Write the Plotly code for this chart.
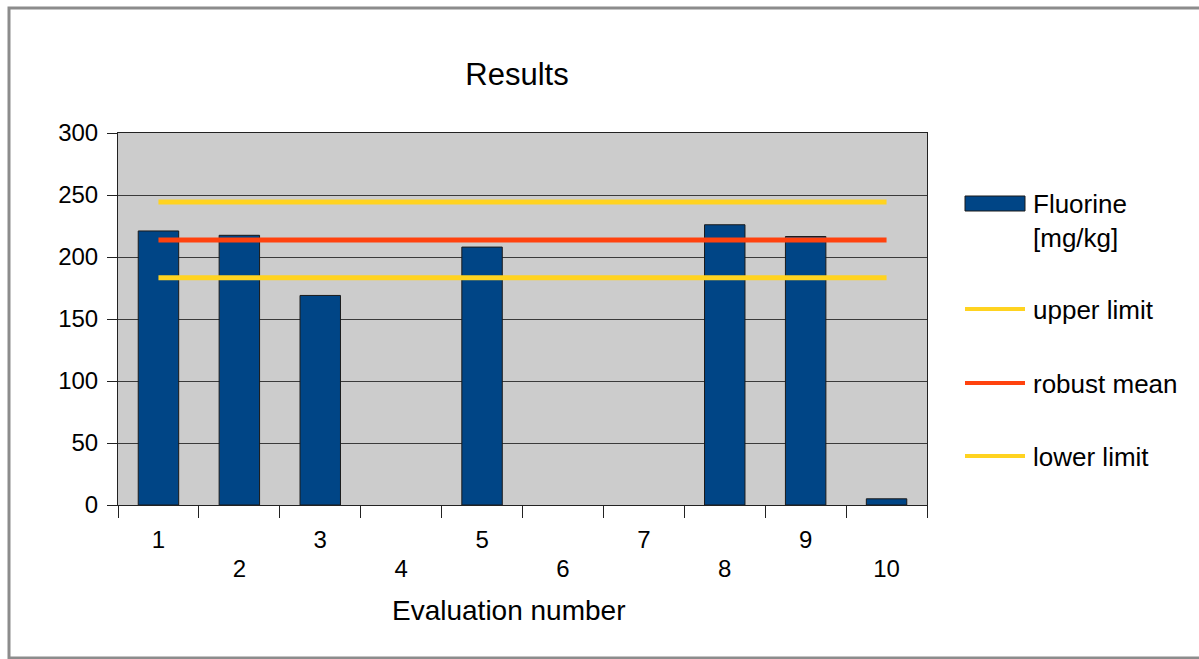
import plotly.graph_objects as go

# ---- data ----
categories = [1, 2, 3, 4, 5, 6, 7, 8, 9, 10]
fluorine = [221, 217.5, 169, None, 208, None, None, 226, 216.5, 5]
upper_limit = 244.3
robust_mean = 213.8
lower_limit = 183.3
series_name = "Fluorine<br>[mg/kg]"
line_names = ["upper limit", "robust mean", "lower limit"]
y_ticks = [0, 50, 100, 150, 200, 250, 300]

W, H = 1199, 659
L, R, T, B = 118, 927, 133, 505
FONT = "Liberation Sans, Arial, sans-serif"
BLUE = "#004586"
YELLOW = "#ffd320"
ORANGE = "#ff420e"


def px(x):
    return (x - L) / (R - L)


def py(y):
    return (B - y) / (B - T)


fig = go.Figure()
fig.add_trace(go.Bar(x=categories, y=fluorine, width=0.5,
                     marker=dict(color=BLUE, line=dict(color="#1a1a1a", width=1)),
                     name="Fluorine [mg/kg]", showlegend=False))

line_vals = [upper_limit, robust_mean, lower_limit]
line_cols = [YELLOW, ORANGE, YELLOW]
for name, v, c in zip(line_names, line_vals, line_cols):
    fig.add_trace(go.Scatter(x=[categories[0], categories[-1]], y=[v, v],
                             mode="lines", line=dict(color=c, width=5),
                             name=name, showlegend=False))

odd = [c for c in categories if c % 2 == 1]
even = [c for c in categories if c % 2 == 0]

fig.update_layout(
    width=W, height=H,
    margin=dict(l=L, r=W - R, t=T, b=H - B),
    paper_bgcolor="white",
    plot_bgcolor="#cccccc",
    font=dict(family=FONT, size=24, color="black"),
    title=dict(text="Results", x=517 / W, xanchor="center",
               y=1 - 74 / H, yanchor="middle", yref="container",
               font=dict(size=31, family=FONT)),
    bargap=0.5,
    xaxis=dict(range=[0.5, 10.5], tickvals=odd, ticktext=[str(c) for c in odd],
               ticks="outside", ticklen=13, tickcolor="rgba(0,0,0,0)",
               showgrid=False, zeroline=False,
               showline=True, linecolor="#222", linewidth=1, mirror=True,
               minor=dict(ticks="outside", tick0=0.5, dtick=1, ticklen=12,
                          tickcolor="#222", tickwidth=1, showgrid=False),
               tickfont=dict(size=24)),
    xaxis2=dict(range=[0.5, 10.5], overlaying="x", anchor="y", side="bottom",
                tickvals=even, ticktext=[str(c) for c in even],
                ticks="outside", ticklen=42, tickcolor="rgba(0,0,0,0)",
                showgrid=False, zeroline=False, showline=False,
                tickfont=dict(size=24)),
    yaxis=dict(range=[0, 300], tickvals=y_ticks, ticks="outside", ticklen=10,
               tickcolor="#222", showgrid=True, gridcolor="#3a3a3a", gridwidth=1,
               zeroline=False, showline=True, linecolor="#222", linewidth=1,
               mirror=True, tickfont=dict(size=24), ticklabelstandoff=4),
    showlegend=False,
)

# dummy trace so xaxis2 renders
fig.add_trace(go.Scatter(x=[None], y=[None], xaxis="x2", showlegend=False,
                         hoverinfo="skip"))

shapes = []
annotations = []
# outer frame
shapes.append(dict(type="rect", xref="paper", yref="paper",
                   x0=px(9), x1=px(1210), y0=py(8), y1=py(658),
                   line=dict(color="#8c8c8c", width=3), fillcolor="rgba(0,0,0,0)",
                   layer="below"))

# custom legend
shapes.append(dict(type="rect", xref="paper", yref="paper",
                   x0=px(965), x1=px(1025), y0=py(196), y1=py(211),
                   fillcolor=BLUE, line=dict(color="#1a1a1a", width=1)))
annotations.append(dict(xref="paper", yref="paper", x=px(1031), y=py(221),
                        xanchor="left", yanchor="middle", text=series_name,
                        showarrow=False, align="left",
                        font=dict(size=26, family=FONT)))
leg_y = [309, 383, 456]
for name, c, yy in zip(line_names, line_cols, leg_y):
    shapes.append(dict(type="line", xref="paper", yref="paper",
                       x0=px(965), x1=px(1025), y0=py(yy), y1=py(yy),
                       line=dict(color=c, width=4)))
    annotations.append(dict(xref="paper", yref="paper", x=px(1031), y=py(yy + 1),
                            xanchor="left", yanchor="middle", text=name,
                            showarrow=False, font=dict(size=26, family=FONT)))

annotations.append(dict(xref="paper", yref="paper", x=px(508), y=py(610),
                        xanchor="center", yanchor="middle",
                        text="Evaluation number", showarrow=False,
                        font=dict(size=28, family=FONT)))

fig.update_layout(shapes=shapes, annotations=annotations)
fig.write_html("out.html", config={"displayModeBar": False},
               post_script="document.body.style.margin='0';document.body.style.overflow='hidden';")
